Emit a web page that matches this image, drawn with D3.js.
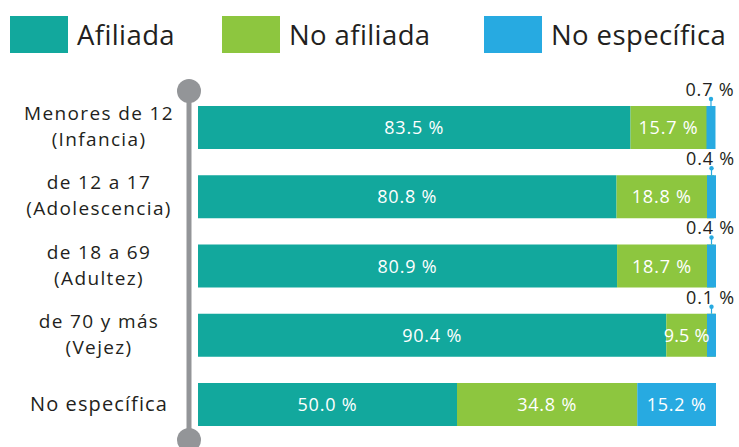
<!DOCTYPE html>
<html><head><meta charset="utf-8">
<script src="https://cdn.jsdelivr.net/npm/d3@7"></script>
<style>body{margin:0;background:#fff}svg{display:block}</style>
</head><body>
<svg id="c" width="739" height="447"></svg>
<script>
const categories = [["Menores de 12","(Infancia)"],["de 12 a 17","(Adolescencia)"],["de 18 a 69","(Adultez)"],["de 70 y más","(Vejez)"],["No específica"]];
const seriesNames = ["Afiliada","No afiliada","No específica"];
const afiliada = [83.5, 80.8, 80.9, 90.4, 50.0];
const noAfiliada = [15.7, 18.8, 18.7, 9.5, 34.8];
const noEspecifica = [0.7, 0.4, 0.4, 0.1, 15.2];
const colors = ["#12a89d", "#8dc63f", "#27aae1"];

const svg = d3.select("#c");
const font = "'Open Sans', 'Noto Sans', sans-serif";
const series = [afiliada, noAfiliada, noEspecifica];
const keys = categories.map((c,i)=>i);

const x = d3.scaleLinear().domain([0,100]).range([198,716]);
const y = d3.scaleBand().domain(keys).range([106,426]).paddingInner(0.379).paddingOuter(0);
const minW = 9;

// legend
const lg = svg.append("g");
const lx = [10, 222, 484];
seriesNames.forEach((n,i)=>{
  lg.append("rect").attr("x",lx[i]).attr("y",16).attr("width",58).attr("height",37).attr("fill",colors[i]);
  lg.append("text").attr("x",lx[i]+67).attr("y",45).text(n)
    .attr("font-family",font).attr("font-size",27.5).attr("letter-spacing",0.4).attr("fill","#231f20");
});

// axis line
svg.append("line").attr("x1",189).attr("x2",189).attr("y1",91).attr("y2",440)
  .attr("stroke","#939598").attr("stroke-width",5);
svg.append("circle").attr("cx",189).attr("cy",91).attr("r",12).attr("fill","#939598");
svg.append("circle").attr("cx",189).attr("cy",440).attr("r",12).attr("fill","#939598");

// bars
keys.forEach(i=>{
  const g = svg.append("g");
  const cy = y(i)+y.bandwidth()/2;
  let cum = 0;
  const segs = series.map((s,j)=>{
    const v = s[i];
    const seg = {v, j, x0: x(cum), x1: x(cum+v)};
    cum += v;
    return seg;
  });
  const last = segs[segs.length-1];
  if (last.x1 - last.x0 < minW) last.x0 = last.x1 - minW;
  segs.forEach(sg=>{
    g.append("rect").attr("x",sg.x0).attr("y",y(i)).attr("width",sg.x1-sg.x0).attr("height",y.bandwidth()).attr("fill",colors[sg.j]);
  });
  segs.forEach((sg,k)=>{
    const visEnd = k < segs.length-1 ? Math.min(sg.x1, segs[k+1].x0) : sg.x1;
    if (sg.v >= 5) {
      g.append("text").attr("x",(sg.x0+visEnd)/2).attr("y",cy+6.5).attr("text-anchor","middle")
        .attr("font-family",font).attr("font-size",18).attr("letter-spacing",sg.v<10?0.2:0.8).attr("fill","#fff").text(d3.format(".1f")(sg.v)+" %");
    } else {
      const mx = (sg.x0+sg.x1)/2;
      g.append("line").attr("x1",mx).attr("x2",mx).attr("y1",y(i)).attr("y2",y(i)-7)
        .attr("stroke",colors[sg.j]).attr("stroke-width",1.2);
      g.append("circle").attr("cx",mx).attr("cy",y(i)-7).attr("r",2.2).attr("fill",colors[sg.j]);
      g.append("text").attr("x",mx-1).attr("y",y(i)-10).attr("text-anchor","middle")
        .attr("font-family",font).attr("font-size",18).attr("letter-spacing",0.8).attr("fill","#231f20").text(d3.format(".1f")(sg.v)+" %");
    }
  });
  // category label
  const lines = categories[i];
  const lh = 26;
  lines.forEach((s,k)=>{
    svg.append("text").attr("x",99).attr("y",cy + (k-(lines.length-1)/2)*lh + (lines.length>1?5.5:7))
      .attr("text-anchor","middle").attr("font-family",font)
      .attr("font-size",lines.length>1?19:20).attr("letter-spacing",lines.length>1?1.35:1.1)
      .attr("fill","#231f20").text(s);
  });
});
</script>
</body></html>
